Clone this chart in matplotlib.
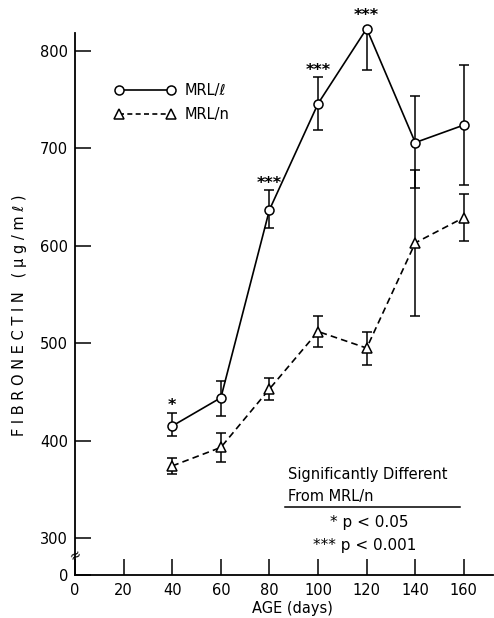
import numpy as np
import matplotlib
matplotlib.use("Agg")
import matplotlib.pyplot as plt
from matplotlib.lines import Line2D

# data
age = [40, 60, 80, 100, 120, 140, 160]

mrl_l = [415, 444, 637, 746, 823, 706, 724]
mrl_l_lo = [10, 19, 19, 27, 43, 47, 62]
mrl_l_hi = [13, 17, 20, 27, 0, 48, 62]

mrl_n = [374, 393, 453, 512, 495, 603, 629]
mrl_n_err = [8, 15, 11, 16, 17, 75, 24]

stars = {40: ("*", 436), 80: ("***", 664), 100: ("***", 780), 120: ("***", 836)}

x_ticks = [0, 20, 40, 60, 80, 100, 120, 140, 160]
y_ticks = [300, 400, 500, 600, 700, 800]
y_zero = 262  # where the "0" sits below the axis break

plt.rcParams["font.family"] = "DejaVu Sans"

fig = plt.figure(figsize=(4.94, 6.18), dpi=100)
ax = fig.add_axes([0.152, 0.0696, 0.846, 0.877])

ax.set_xlim(0, 172)
ax.set_ylim(y_zero, 818.5)

for s in ["top", "right"]:
    ax.spines[s].set_visible(False)
for s in ["left", "bottom"]:
    ax.spines[s].set_linewidth(1.3)

ax.set_xticks(x_ticks)
ax.set_xticklabels([str(t) for t in x_ticks])
ax.set_yticks([y_zero] + y_ticks)
ax.set_yticklabels(["0"] + [str(t) for t in y_ticks])
ax.tick_params(direction="in", length=11.5, width=1.1, labelsize=10.5)
ax.tick_params(axis="x", pad=6)
ax.tick_params(axis="y", pad=5)

# error bars first, markers on top
ax.errorbar(age, mrl_l, yerr=[mrl_l_lo, mrl_l_hi], fmt="none", ecolor="black",
            elinewidth=1.1, capsize=3.6, capthick=1.1, zorder=2)
ax.errorbar(age, mrl_n, yerr=mrl_n_err, fmt="none", ecolor="black",
            elinewidth=1.1, capsize=3.6, capthick=1.1, zorder=2)

ax.plot(age, mrl_l, "-", color="black", lw=1.2, marker="o", ms=6.5,
        mfc="white", mec="black", mew=1.1, zorder=4, clip_on=False)
ax.plot(age, mrl_n, "--", color="black", lw=1.2, dashes=(4, 2.5), marker="^",
        ms=6.5, mfc="white", mec="black", mew=1.1, zorder=4, clip_on=False)

for x, (txt, y) in stars.items():
    ax.text(x, y, txt, ha="center", va="center", fontsize=11.5,
            fontweight="bold", clip_on=False)

# axis break mark
ax.text(0, 282, "≈", ha="center", va="center", fontsize=10, rotation=30)

# legend
h1 = Line2D([], [], ls="-", color="black", lw=1.2, marker="o", ms=6.5,
            mfc="white", mec="black", mew=1.1)
h2 = Line2D([], [], ls="--", color="black", lw=1.2, dashes=(3, 2), marker="^",
            ms=6.5, mfc="white", mec="black", mew=1.1)
ax.legend([h1, h2], ["MRL/ℓ", "MRL/n"], numpoints=2, frameon=False,
          handlelength=4.2, fontsize=10.5, loc="upper left",
          bbox_to_anchor=(0.08, 0.918), handletextpad=0.6, labelspacing=0.62,
          borderaxespad=0)

# significance note
ax.text(0.51, 0.1845, "Significantly Different", transform=ax.transAxes,
        fontsize=10.5, ha="left", va="center")
ax.text(0.51, 0.144, "From MRL/n", transform=ax.transAxes,
        fontsize=10.5, ha="left", va="center")
ax.plot([0.502, 0.921], [0.126, 0.126], transform=ax.transAxes, color="black",
        lw=1.1, clip_on=False)
ax.text(0.703, 0.096, "* p < 0.05", transform=ax.transAxes,
        fontsize=11, ha="center", va="center")
ax.text(0.694, 0.055, "*** p < 0.001", transform=ax.transAxes,
        fontsize=11, ha="center", va="center")

ax.set_xlabel("AGE (days)", fontsize=10.5)
ax.xaxis.set_label_coords(0.52, -0.048)
ax.set_ylabel("F I B R O N E C T I N   ( μ g / m ℓ )", fontsize=10.5)
ax.yaxis.set_label_coords(-0.115, 0.48)

fig.savefig("out.png", dpi=100)
